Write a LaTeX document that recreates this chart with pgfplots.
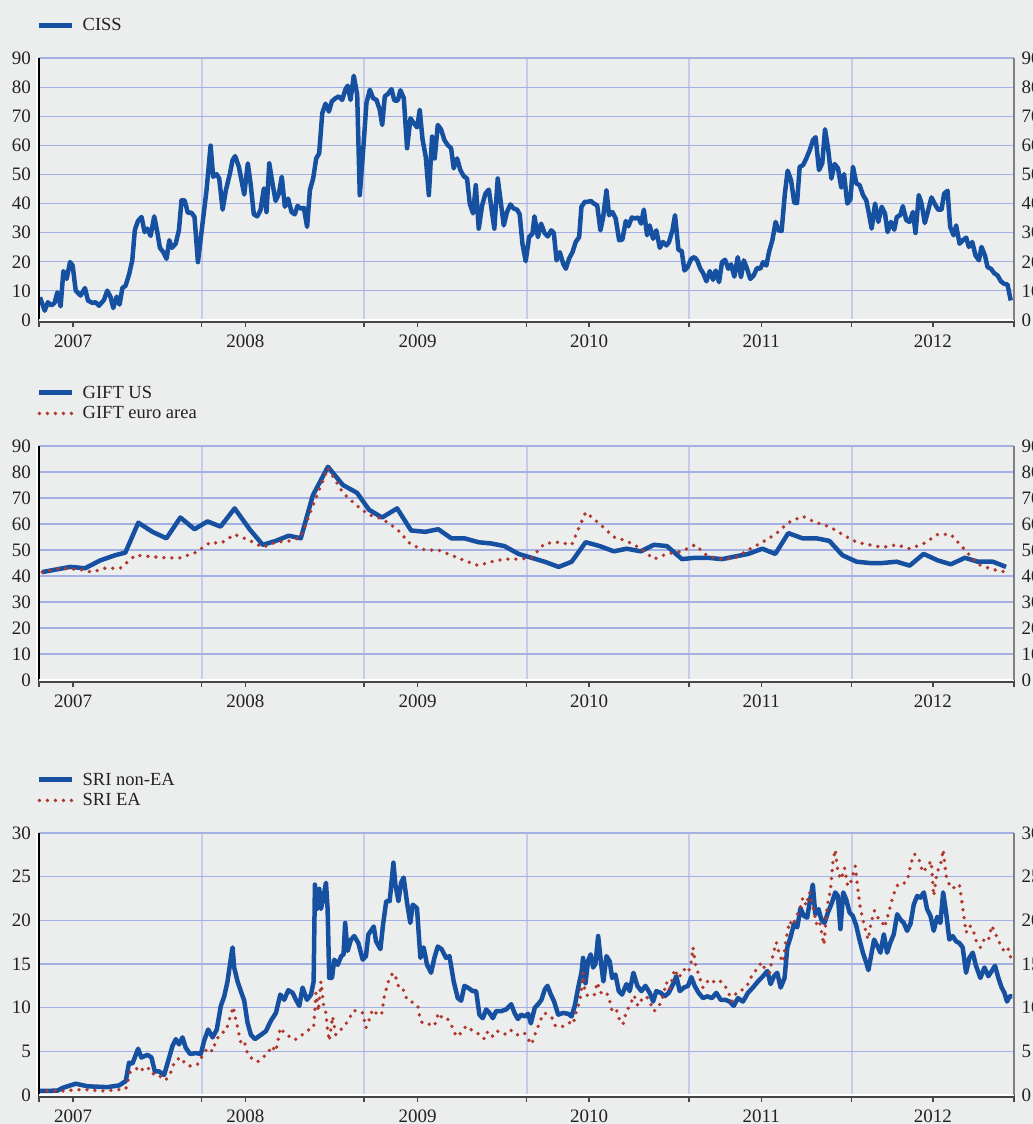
\documentclass[border=0pt]{standalone}
\usepackage{fontspec}
\setmainfont{Liberation Serif}
\usepackage{pgfplots}
\pgfplotsset{compat=1.18}
\definecolor{bgc}{RGB}{236,237,237}
\definecolor{cblue}{RGB}{22,80,160}
\definecolor{cred}{RGB}{176,57,46}
\definecolor{hgrid}{RGB}{165,176,226}
\definecolor{vgrid}{RGB}{198,203,236}
\definecolor{txt}{RGB}{34,34,34}
\definecolor{axdk}{RGB}{70,70,70}
\pgfplotsset{
  common/.style={
    scale only axis, width=975pt, xmin=2007, xmax=2013,
    axis line style={draw=none},
    /pgf/number format/assume math mode=true,
    ticklabel style={font=\fontsize{19}{19}\selectfont, text=txt},
  },
  panel/.style={common,
    xtick={2007,2008,2009,2010,2011,2012,2013},
    xticklabels={},
    xtick pos=left, xtick align=outside, major tick length=7pt,
    xtick style={draw=axdk, line width=1.5pt},
    ytick style={draw=none},
    xmajorgrids, ymajorgrids,
    x grid style={draw=vgrid, line width=2pt},
    y grid style={draw=hgrid, line width=1.2pt},
    extra x ticks={2007.21,2008.27,2009.33,2010.385,2011.445,2012.50},
    extra x tick labels={2007,2008,2009,2010,2011,2012},
    extra x tick style={grid=none, tick style={draw=none}, xticklabel style={yshift=-4pt}},
    yticklabel style={xshift=-4.5pt},
    legend style={draw=none, fill=none, at={(0,1)}, anchor=south west,
      xshift=-2pt, yshift=22pt, inner sep=0pt,
      font=\fontsize{18.5}{18.5}\selectfont, text=txt,
      nodes={inner xsep=8pt, inner ysep=3.5pt}},
    legend cell align=left,
    legend image code/.code={\draw[##1] (1pt,0pt) -- (34pt,0pt);},
    after end axis/.code={
      \draw[white, line width=2pt] ([xshift=-2.2pt]rel axis cs:0,0) -- ([xshift=-2.2pt]rel axis cs:0,1);
      \draw[black, line width=1.5pt] (rel axis cs:0,0) -- (rel axis cs:0,1);
      \draw[white, line width=2pt] (rel axis cs:0,0) -- (rel axis cs:1,0);
      \draw[axdk, line width=1.6pt] ([yshift=-2pt]rel axis cs:0,0) -- ([yshift=-2pt]rel axis cs:1,0);
      \draw[gray, line width=1.5pt] (rel axis cs:1,0) -- (rel axis cs:1,1);
    },
  },
  rightlab/.style={common, xtick=\empty, ytick style={draw=none}, yticklabel pos=right,
    yticklabel style={xshift=4pt}},
  blueline/.style={cblue, line width=4.5pt, line join=round, no markers},
  reddot/.style={cred, line width=3.8pt, line cap=round, dash pattern=on 0pt off 8pt, no markers},
}
\begin{document}
\begin{tikzpicture}
\useasboundingbox (0,0) rectangle (1033pt,-1124pt);
\fill[bgc] (0,0) rectangle (1033pt,-1124pt);
% ---------------- Panel 1: CISS
\begin{axis}[panel, at={(39pt,-320pt)}, anchor=south west, height=262pt,
  ymin=0, ymax=90, ytick={0,10,...,90}]
\addplot[blueline] coordinates {
(2007.006,7.8)(2007.035,3.2)(2007.055,6.1)(2007.076,5.0)(2007.096,5.9)(2007.113,9.5)(2007.133,4.7)(2007.150,16.8)(2007.170,14.1)(2007.191,19.9)(2007.207,18.7)(2007.226,10.1)(2007.256,8.4)(2007.283,11.0)(2007.301,6.7)(2007.328,5.9)(2007.349,6.1)(2007.369,4.9)(2007.400,6.9)(2007.420,10.1)(2007.441,7.8)(2007.457,4.1)(2007.478,8.0)(2007.496,5.3)(2007.513,11.0)(2007.533,11.8)(2007.554,15.6)(2007.574,20.5)(2007.590,31.0)(2007.609,34.0)(2007.631,35.4)(2007.650,30.2)(2007.666,31.4)(2007.687,28.9)(2007.709,35.6)(2007.728,30.2)(2007.744,24.8)(2007.765,23.3)(2007.785,21.0)(2007.802,27.4)(2007.818,24.8)(2007.841,26.2)(2007.861,30.8)(2007.877,41.1)(2007.896,41.1)(2007.916,36.8)(2007.937,36.9)(2007.957,35.4)(2007.978,19.9)
(2008.005,32.5)(2008.031,44.6)(2008.056,59.9)(2008.072,49.2)(2008.093,50.1)(2008.109,48.6)(2008.130,37.9)(2008.150,44.6)(2008.175,50.3)(2008.191,54.9)(2008.207,56.3)(2008.230,52.6)(2008.263,43.1)(2008.285,53.8)(2008.302,46.9)(2008.322,36.3)(2008.343,35.6)(2008.363,37.7)(2008.384,45.2)(2008.400,37.1)(2008.417,53.8)(2008.437,46.9)(2008.456,40.9)(2008.476,43.4)(2008.494,49.2)(2008.513,38.9)(2008.533,41.7)(2008.554,37.1)(2008.574,36.3)(2008.591,39.2)(2008.609,38.3)(2008.630,38.5)(2008.650,32.0)(2008.667,44.6)(2008.687,48.6)(2008.706,55.5)(2008.724,57.2)(2008.743,71.0)(2008.763,74.3)(2008.784,71.6)(2008.802,75.1)(2008.825,76.2)(2008.845,76.8)(2008.866,75.6)(2008.886,79.3)(2008.900,80.5)(2008.917,75.6)(2008.937,83.9)(2008.958,77.4)(2008.974,42.9)(2008.995,58.4)
(2009.015,74.5)(2009.036,79.1)(2009.056,76.2)(2009.077,75.6)(2009.097,72.2)(2009.112,67.0)(2009.128,76.8)(2009.148,77.7)(2009.169,79.3)(2009.187,75.4)(2009.208,75.4)(2009.224,78.9)(2009.245,76.2)(2009.265,59.0)(2009.286,69.3)(2009.306,67.6)(2009.327,66.2)(2009.343,72.2)(2009.360,62.1)(2009.380,56.1)(2009.399,42.9)(2009.419,63.0)(2009.435,55.5)(2009.454,67.0)(2009.474,65.5)(2009.495,61.8)(2009.515,60.1)(2009.536,59.0)(2009.552,52.1)(2009.573,55.5)(2009.593,51.5)(2009.614,49.4)(2009.634,48.6)(2009.651,40.0)(2009.671,36.6)(2009.688,46.3)(2009.706,31.4)(2009.727,39.4)(2009.747,43.4)(2009.768,44.8)(2009.802,31.4)(2009.823,48.6)(2009.839,41.7)(2009.860,32.5)(2009.880,37.1)(2009.901,39.7)(2009.921,38.3)(2009.942,37.9)(2009.958,36.3)(2009.975,26.2)(2009.995,20.2)
(2010.016,28.5)(2010.037,29.7)(2010.049,35.6)(2010.070,28.5)(2010.090,33.1)(2010.111,29.9)(2010.131,28.7)(2010.152,30.8)(2010.168,29.9)(2010.185,20.5)(2010.205,23.3)(2010.226,19.3)(2010.242,17.6)(2010.262,21.1)(2010.283,23.3)(2010.303,26.8)(2010.324,28.5)(2010.338,38.9)(2010.359,40.6)(2010.379,40.6)(2010.396,40.9)(2010.414,40.0)(2010.435,39.4)(2010.455,30.8)(2010.472,35.4)(2010.492,44.6)(2010.508,36.0)(2010.529,37.1)(2010.549,34.8)(2010.570,27.4)(2010.590,27.6)(2010.611,34.0)(2010.627,32.2)(2010.648,35.2)(2010.668,34.9)(2010.689,35.2)(2010.705,33.1)(2010.722,37.9)(2010.742,29.1)(2010.758,32.5)(2010.779,27.9)(2010.799,30.8)(2010.820,24.8)(2010.840,26.8)(2010.861,25.6)(2010.877,26.8)(2010.898,30.8)(2010.914,36.0)(2010.935,24.1)(2010.955,23.7)(2010.972,17.0)(2010.992,18.2)
(2011.013,21.0)(2011.033,21.6)(2011.050,20.5)(2011.070,17.6)(2011.087,16.1)(2011.107,13.3)(2011.128,16.8)(2011.148,13.8)(2011.164,17.0)(2011.185,13.0)(2011.203,19.9)(2011.222,20.7)(2011.242,17.6)(2011.259,19.1)(2011.279,14.9)(2011.300,21.6)(2011.320,14.7)(2011.337,20.5)(2011.357,17.6)(2011.377,14.1)(2011.398,15.3)(2011.419,17.9)(2011.439,17.6)(2011.456,19.9)(2011.476,18.7)(2011.492,23.3)(2011.513,27.4)(2011.533,33.7)(2011.550,30.8)(2011.570,30.6)(2011.589,42.9)(2011.607,51.3)(2011.628,48.0)(2011.648,40.2)(2011.665,40.2)(2011.681,52.6)(2011.702,53.2)(2011.722,55.5)(2011.743,58.4)(2011.763,61.8)(2011.779,62.8)(2011.800,51.5)(2011.820,53.8)(2011.837,65.5)(2011.857,58.4)(2011.876,48.6)(2011.896,53.6)(2011.917,52.1)(2011.937,45.5)(2011.954,50.1)(2011.974,40.0)(2011.993,41.4)
(2012.009,52.6)(2012.030,46.9)(2012.050,46.3)(2012.071,42.9)(2012.091,41.1)(2012.107,36.6)(2012.124,31.4)(2012.145,40.0)(2012.165,33.7)(2012.186,38.9)(2012.206,36.6)(2012.222,30.2)(2012.243,33.7)(2012.263,31.0)(2012.279,35.4)(2012.300,36.0)(2012.316,39.1)(2012.337,34.3)(2012.357,33.7)(2012.378,37.1)(2012.394,29.9)(2012.414,42.9)(2012.431,40.0)(2012.451,33.3)(2012.472,37.7)(2012.492,42.1)(2012.513,39.8)(2012.533,37.9)(2012.554,37.9)(2012.570,43.4)(2012.591,44.4)(2012.607,32.0)(2012.628,29.1)(2012.644,32.5)(2012.665,26.2)(2012.685,27.4)(2012.706,28.3)(2012.722,25.1)(2012.743,26.8)(2012.763,22.2)(2012.784,20.5)(2012.800,25.1)(2012.821,22.2)(2012.837,18.2)(2012.858,17.6)(2012.878,16.1)(2012.899,15.3)(2012.919,13.3)(2012.940,12.4)(2012.960,12.2)(2012.980,6.7)
};
\addlegendentry{CISS}
\end{axis}
\begin{axis}[rightlab, at={(39pt,-320pt)}, anchor=south west, height=262pt,
  ymin=0, ymax=90, ytick={0,10,...,90}]
\end{axis}
% ---------------- Panel 2: GIFT
\begin{axis}[panel, at={(39pt,-680pt)}, anchor=south west, height=234pt,
  ymin=0, ymax=90, ytick={0,10,...,90}]
\addplot[blueline] coordinates {
(2007.019,41.5)(2007.191,43.5)(2007.284,43)(2007.377,46)(2007.469,48)(2007.531,49)(2007.611,60.5)(2007.698,57)(2007.784,54.5)(2007.870,62.5)(2007.957,58)(2008.037,61)(2008.117,59)(2008.204,66)(2008.296,58)(2008.377,52)(2008.457,53.5)(2008.537,55.5)(2008.611,54.5)(2008.685,71)(2008.778,82)(2008.870,75)(2008.957,72)(2009.031,65.5)(2009.111,62.5)(2009.204,66)(2009.290,57.5)(2009.377,57)(2009.457,58)(2009.537,54.5)(2009.617,54.5)(2009.704,53)(2009.784,52.5)(2009.864,51.5)(2009.951,48.5)(2010.031,47)(2010.111,45.5)(2010.198,43.5)(2010.278,45.5)(2010.364,53)(2010.451,51.5)(2010.537,49.5)(2010.617,50.5)(2010.704,49.5)(2010.784,52)(2010.864,51.5)(2010.957,46.5)(2011.037,47)(2011.117,47)(2011.204,46.5)(2011.284,47.5)(2011.364,48.5)(2011.451,50.5)(2011.531,48.5)(2011.611,56.5)(2011.698,54.5)(2011.784,54.5)(2011.864,53.5)(2011.944,48)(2012.031,45.5)(2012.111,45)(2012.191,45)(2012.278,45.5)(2012.358,44)(2012.444,48.5)(2012.531,46)(2012.611,44.5)(2012.698,47)(2012.778,45.5)(2012.870,45.5)(2012.951,43.5)
};
\addlegendentry{GIFT US}
\addplot[reddot] coordinates {
(2007.019,41.5)(2007.130,43)(2007.253,42.5)(2007.327,41.5)(2007.407,43)(2007.500,43)(2007.593,48)(2007.685,47.5)(2007.778,47)(2007.870,47)(2007.963,49)(2008.056,53)(2008.117,52.5)(2008.204,56)(2008.302,53.5)(2008.377,51)(2008.457,53)(2008.549,53.5)(2008.611,55)(2008.685,67)(2008.778,81.5)(2008.870,72)(2008.957,67)(2009.031,63.5)(2009.111,62)(2009.204,58)(2009.290,52)(2009.377,50)(2009.457,50)(2009.537,48)(2009.617,46)(2009.704,44)(2009.784,45.5)(2009.864,46.5)(2009.951,46.5)(2010.031,47)(2010.111,52.5)(2010.198,53)(2010.278,52)(2010.364,64.5)(2010.451,60)(2010.537,55)(2010.617,53.5)(2010.704,50.5)(2010.784,46.5)(2010.864,48.5)(2010.957,49.5)(2011.037,52)(2011.117,47.5)(2011.204,46.5)(2011.284,47)(2011.364,50)(2011.451,53)(2011.531,56)(2011.611,60.5)(2011.698,63)(2011.784,60.5)(2011.864,59)(2011.944,56)(2012.031,53)(2012.111,52)(2012.191,51)(2012.278,52)(2012.358,50.5)(2012.444,52.5)(2012.531,56)(2012.611,56)(2012.698,50)(2012.778,44.5)(2012.870,42.5)(2012.951,41.5)
};
\addlegendentry{GIFT euro area}
\end{axis}
\begin{axis}[rightlab, at={(39pt,-680pt)}, anchor=south west, height=234pt,
  ymin=0, ymax=90, ytick={0,10,...,90}]
\end{axis}
% ---------------- Panel 3: SRI
\begin{axis}[panel, at={(39pt,-1095pt)}, anchor=south west, height=262pt,
  ymin=0, ymax=30, ytick={0,5,...,30}]
\addplot[blueline] coordinates {
(2007.000,0.46)(2007.113,0.5)(2007.144,0.8)(2007.226,1.3)(2007.298,1.0)(2007.421,0.9)(2007.493,1.1)(2007.534,1.6)(2007.554,3.7)(2007.575,3.6)(2007.610,5.3)(2007.630,4.3)(2007.667,4.6)(2007.692,4.3)(2007.713,2.7)(2007.739,2.7)(2007.770,2.3)(2007.795,3.9)(2007.821,5.6)(2007.842,6.4)(2007.862,5.8)(2007.883,6.6)(2007.903,5.4)(2007.930,4.7)(2007.965,4.8)(2007.996,4.7)
(2008.016,6.2)(2008.041,7.5)(2008.068,6.6)(2008.094,7.5)(2008.119,10.2)(2008.140,11.3)(2008.160,13.0)(2008.181,15.7)(2008.191,16.9)(2008.201,14.6)(2008.222,13.0)(2008.242,11.9)(2008.263,10.8)(2008.283,8.3)(2008.304,6.9)(2008.329,6.4)(2008.366,6.9)(2008.396,7.3)(2008.427,8.5)(2008.458,9.4)(2008.485,11.5)(2008.509,10.9)(2008.534,12.0)(2008.561,11.7)(2008.581,10.9)(2008.602,10.2)(2008.622,12.3)(2008.649,10.9)(2008.674,11.5)(2008.690,13.0)(2008.698,24.1)(2008.710,21.3)(2008.725,23.6)(2008.735,21.3)(2008.752,22.8)(2008.766,24.3)(2008.776,21.3)(2008.786,13.4)(2008.803,13.4)(2008.817,15.5)(2008.838,14.9)(2008.860,15.9)(2008.874,16.1)(2008.884,19.7)(2008.899,16.5)(2008.920,17.8)(2008.940,18.2)(2008.965,17.4)(2008.992,15.5)
(2009.012,15.9)(2009.027,18.4)(2009.043,18.8)(2009.060,19.3)(2009.074,17.6)(2009.101,16.7)(2009.117,19.5)(2009.137,22.2)(2009.158,22.2)(2009.181,26.6)(2009.193,24.1)(2009.212,22.2)(2009.228,24.3)(2009.244,24.9)(2009.265,22.0)(2009.285,19.7)(2009.300,21.8)(2009.326,21.4)(2009.347,15.7)(2009.367,16.9)(2009.388,14.9)(2009.413,14.0)(2009.433,15.7)(2009.454,17.0)(2009.478,16.7)(2009.505,15.7)(2009.526,15.9)(2009.552,13.0)(2009.577,11.1)(2009.598,10.8)(2009.618,12.5)(2009.639,12.3)(2009.669,11.9)(2009.690,11.9)(2009.710,9.2)(2009.731,8.8)(2009.752,9.8)(2009.772,9.4)(2009.793,8.8)(2009.813,9.6)(2009.844,9.6)(2009.875,9.8)(2009.906,10.4)(2009.926,9.4)(2009.947,8.7)(2009.967,9.2)(2009.990,9.0)
(2010.010,9.3)(2010.027,8.2)(2010.051,10.0)(2010.072,10.4)(2010.092,10.9)(2010.113,12.1)(2010.129,12.5)(2010.150,11.5)(2010.170,10.7)(2010.195,9.2)(2010.225,9.4)(2010.256,9.3)(2010.277,9.0)(2010.297,10.2)(2010.318,12.3)(2010.338,14.0)(2010.348,15.7)(2010.363,12.8)(2010.379,15.4)(2010.395,16.1)(2010.410,14.6)(2010.424,15.0)(2010.441,18.2)(2010.457,15.4)(2010.473,13.0)(2010.492,15.9)(2010.512,15.3)(2010.527,13.4)(2010.547,13.8)(2010.568,11.9)(2010.588,11.5)(2010.615,12.7)(2010.635,11.9)(2010.658,14.0)(2010.682,12.5)(2010.707,11.9)(2010.732,12.5)(2010.758,11.7)(2010.779,10.7)(2010.799,11.9)(2010.826,11.7)(2010.850,11.3)(2010.875,11.7)(2010.902,12.7)(2010.922,13.6)(2010.943,11.9)(2010.969,12.3)(2010.994,12.5)
(2011.014,13.5)(2011.035,12.5)(2011.059,11.7)(2011.086,11.1)(2011.113,11.3)(2011.141,11.1)(2011.168,11.7)(2011.195,10.9)(2011.223,10.9)(2011.250,10.7)(2011.275,10.2)(2011.301,11.1)(2011.332,10.7)(2011.363,11.7)(2011.393,12.3)(2011.424,13.0)(2011.455,13.6)(2011.482,14.2)(2011.502,12.7)(2011.523,13.6)(2011.543,14.0)(2011.564,12.3)(2011.588,13.4)(2011.605,16.9)(2011.625,18.1)(2011.646,19.6)(2011.666,19.2)(2011.686,21.4)(2011.707,20.5)(2011.727,20.3)(2011.744,22.2)(2011.762,24.1)(2011.777,20.7)(2011.797,21.3)(2011.814,20.1)(2011.834,19.7)(2011.855,20.9)(2011.879,22.0)(2011.900,23.2)(2011.916,22.8)(2011.932,19.0)(2011.949,23.2)(2011.967,22.4)(2011.988,20.9)
(2012.008,20.5)(2012.029,19.4)(2012.049,17.8)(2012.070,16.3)(2012.090,15.2)(2012.104,14.3)(2012.121,16.0)(2012.139,17.8)(2012.158,17.1)(2012.178,16.3)(2012.199,18.4)(2012.219,16.3)(2012.238,17.4)(2012.260,18.4)(2012.281,20.7)(2012.301,20.1)(2012.322,19.7)(2012.342,18.8)(2012.363,19.6)(2012.383,21.8)(2012.404,22.8)(2012.424,22.6)(2012.445,23.2)(2012.465,21.3)(2012.486,20.5)(2012.506,18.8)(2012.527,20.4)(2012.547,19.7)(2012.564,23.2)(2012.582,20.9)(2012.602,17.8)(2012.623,18.2)(2012.643,17.6)(2012.664,17.4)(2012.684,16.9)(2012.705,14.0)(2012.725,15.7)(2012.746,16.3)(2012.766,14.8)(2012.793,13.4)(2012.818,14.6)(2012.842,13.6)(2012.863,14.2)(2012.883,14.8)(2012.904,13.4)(2012.924,12.3)(2012.941,11.7)(2012.957,10.7)(2012.973,11.3)(2012.990,11.3)
};
\addlegendentry{SRI non-EA}
\addplot[reddot] coordinates {
(2007.000,0.46)(2007.072,0.46)(2007.154,0.46)(2007.216,0.6)(2007.298,0.6)(2007.390,0.46)(2007.483,0.6)(2007.534,0.7)(2007.561,2.6)(2007.585,2.7)(2007.616,3.3)(2007.647,2.7)(2007.678,3.1)(2007.713,2.2)(2007.749,2.1)(2007.780,1.7)(2007.811,2.6)(2007.836,3.9)(2007.873,4.3)(2007.903,3.5)(2007.934,3.3)(2007.975,3.5)
(2008.006,4.5)(2008.037,5.4)(2008.068,5.0)(2008.088,6.2)(2008.119,7.1)(2008.150,7.3)(2008.174,8.8)(2008.195,10.1)(2008.205,9.1)(2008.222,7.7)(2008.242,6.0)(2008.263,6.2)(2008.283,4.7)(2008.314,4.1)(2008.345,3.8)(2008.376,4.3)(2008.407,4.7)(2008.431,5.6)(2008.458,5.0)(2008.485,7.7)(2008.509,7.1)(2008.540,6.7)(2008.571,6.3)(2008.602,6.6)(2008.632,7.1)(2008.663,7.5)(2008.690,7.7)(2008.704,11.7)(2008.719,9.6)(2008.735,13.0)(2008.752,10.2)(2008.766,9.4)(2008.776,7.3)(2008.786,6.2)(2008.807,9.0)(2008.827,6.9)(2008.854,7.4)(2008.879,7.9)(2008.910,8.7)(2008.930,9.6)(2008.961,9.7)(2008.992,9.4)
(2009.012,7.7)(2009.033,8.7)(2009.053,9.8)(2009.084,9.2)(2009.108,9.2)(2009.125,11.3)(2009.150,13.0)(2009.177,14.0)(2009.197,13.4)(2009.218,12.1)(2009.244,12.0)(2009.265,10.9)(2009.300,10.6)(2009.331,10.2)(2009.347,8.5)(2009.372,8.1)(2009.402,8.1)(2009.433,7.9)(2009.458,9.4)(2009.485,8.7)(2009.515,8.7)(2009.546,7.7)(2009.567,6.7)(2009.598,7.1)(2009.628,7.9)(2009.658,7.5)(2009.690,7.1)(2009.720,6.9)(2009.741,6.4)(2009.762,7.3)(2009.793,6.7)(2009.819,7.3)(2009.844,7.3)(2009.875,6.9)(2009.906,7.4)(2009.936,6.9)(2009.963,6.9)(2009.988,7.1)
(2010.000,6.7)(2010.031,5.8)(2010.051,6.9)(2010.072,7.9)(2010.092,8.8)(2010.113,9.4)(2010.137,9.0)(2010.158,8.8)(2010.178,7.9)(2010.205,7.8)(2010.236,7.9)(2010.266,8.3)(2010.287,8.1)(2010.301,9.2)(2010.318,10.2)(2010.334,11.4)(2010.348,14.0)(2010.359,11.9)(2010.375,11.4)(2010.395,11.3)(2010.416,11.4)(2010.436,12.9)(2010.457,11.7)(2010.482,11.9)(2010.506,11.3)(2010.527,9.6)(2010.553,9.8)(2010.574,8.5)(2010.594,8.1)(2010.615,9.6)(2010.635,10.2)(2010.662,11.4)(2010.686,10.2)(2010.711,11.0)(2010.738,11.3)(2010.764,10.4)(2010.785,9.6)(2010.809,10.0)(2010.830,10.7)(2010.861,12.9)(2010.881,12.1)(2010.912,14.4)(2010.936,13.4)(2010.969,14.4)(2010.994,14.0)
(2011.010,14.8)(2011.025,16.9)(2011.039,15.0)(2011.059,13.8)(2011.086,12.3)(2011.113,13.0)(2011.137,12.7)(2011.162,13.2)(2011.195,13.0)(2011.215,12.7)(2011.240,11.9)(2011.264,10.7)(2011.291,11.7)(2011.318,11.9)(2011.342,12.3)(2011.367,12.8)(2011.393,14.0)(2011.420,14.4)(2011.445,15.2)(2011.469,14.4)(2011.496,14.0)(2011.516,16.0)(2011.537,17.5)(2011.557,16.0)(2011.578,15.2)(2011.598,17.9)(2011.619,19.9)(2011.639,19.4)(2011.660,20.5)(2011.680,21.1)(2011.701,22.6)(2011.721,21.7)(2011.742,23.2)(2011.762,21.7)(2011.783,19.6)(2011.803,20.0)(2011.830,17.2)(2011.850,21.5)(2011.871,23.6)(2011.885,26.6)(2011.900,28.1)(2011.916,25.5)(2011.936,24.7)(2011.957,26.0)(2011.977,23.9)(2011.998,24.5)
(2012.023,26.2)(2012.039,23.6)(2012.055,21.3)(2012.076,19.6)(2012.102,17.8)(2012.121,19.8)(2012.141,21.1)(2012.162,20.3)(2012.182,20.1)(2012.203,19.2)(2012.223,20.5)(2012.244,22.0)(2012.264,23.2)(2012.285,24.1)(2012.316,24.1)(2012.346,24.7)(2012.367,26.6)(2012.387,27.6)(2012.412,27.2)(2012.438,25.5)(2012.465,26.1)(2012.490,26.8)(2012.506,22.8)(2012.527,25.6)(2012.547,26.2)(2012.564,28.1)(2012.582,25.1)(2012.602,24.1)(2012.623,23.6)(2012.643,24.0)(2012.664,24.1)(2012.684,21.5)(2012.705,18.6)(2012.725,19.4)(2012.746,19.1)(2012.766,17.7)(2012.793,16.9)(2012.818,17.9)(2012.842,17.7)(2012.863,19.4)(2012.883,18.6)(2012.904,17.7)(2012.924,16.9)(2012.945,16.3)(2012.965,16.7)(2012.986,15.3)
};
\addlegendentry{SRI EA}
\end{axis}
\begin{axis}[rightlab, at={(39pt,-1095pt)}, anchor=south west, height=262pt,
  ymin=0, ymax=30, ytick={0,5,...,30}]
\end{axis}
\end{tikzpicture}
\end{document}
